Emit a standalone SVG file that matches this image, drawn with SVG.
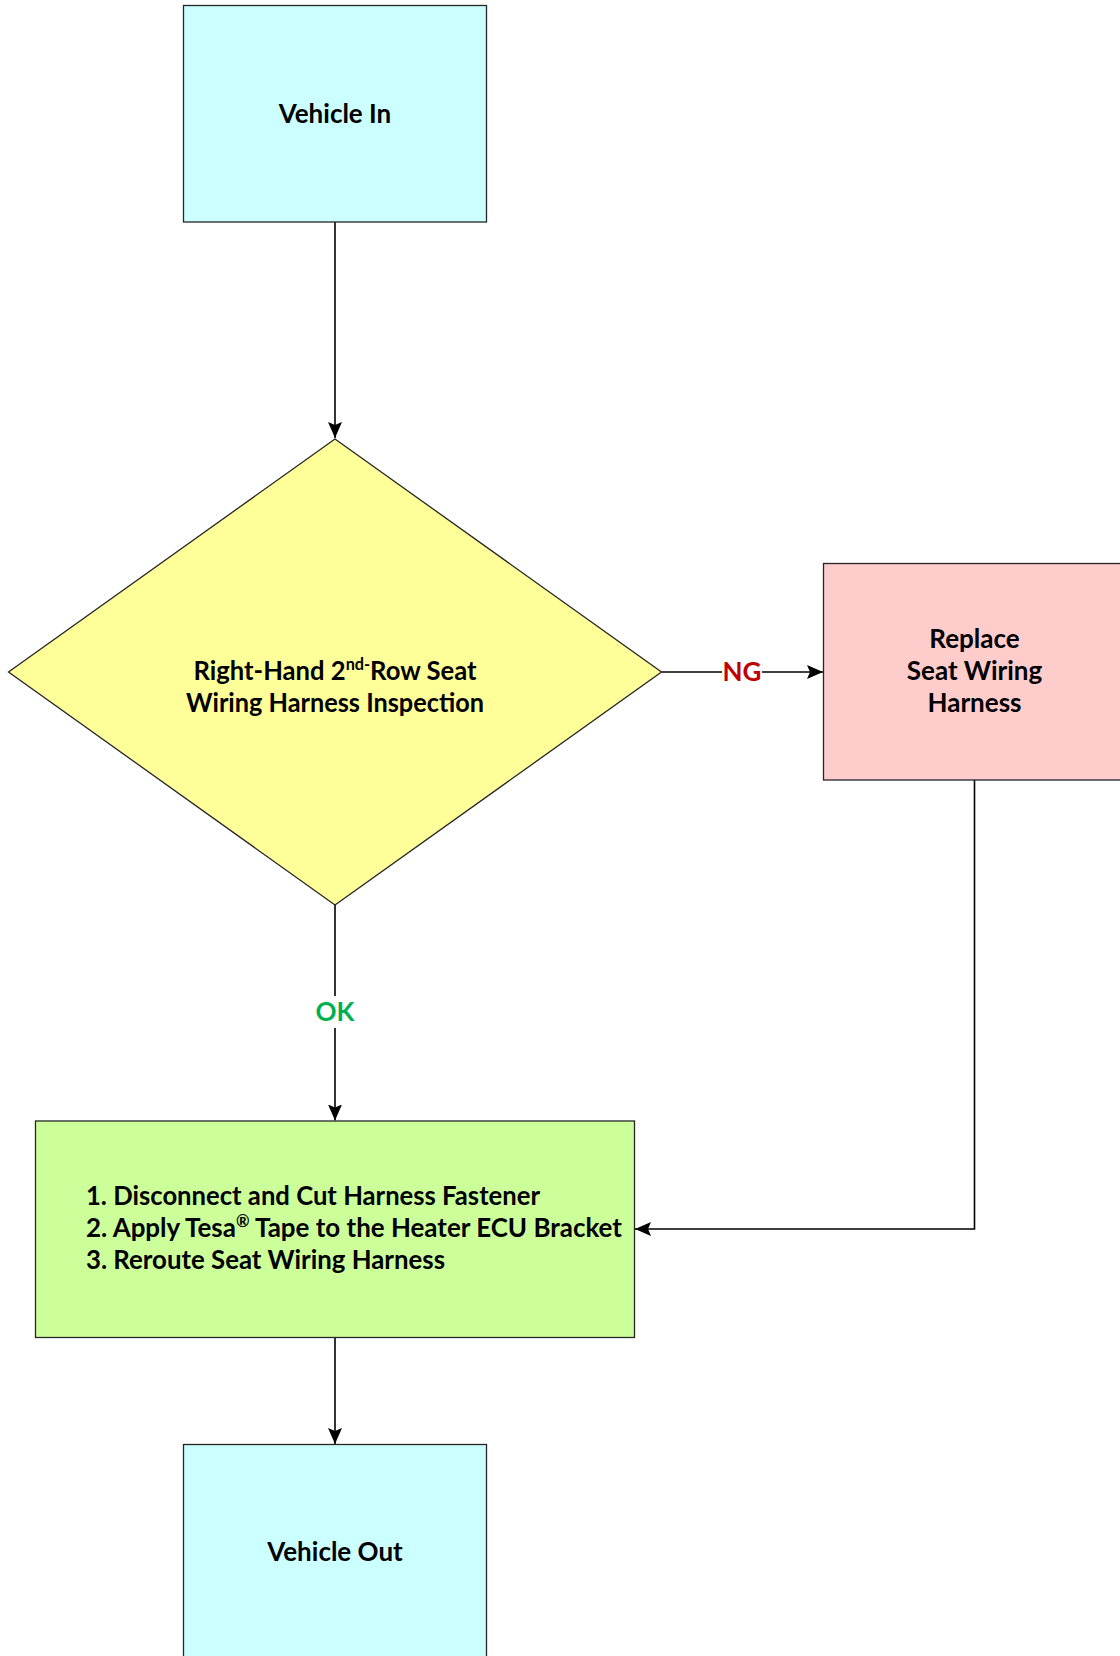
<svg xmlns="http://www.w3.org/2000/svg" width="1120" height="1656" viewBox="0 0 1120 1656">
<style>
.box{stroke:#262626;stroke-width:1.3}
.t{font-family:Lato,"Noto Sans",sans-serif;font-weight:bold;font-size:26px;fill:#000}
.c{text-anchor:middle}
.ln{fill:none;stroke:#000;stroke-width:1.6}
.lbl{font-family:Lato,"Noto Sans",sans-serif;font-weight:bold;font-size:26px;text-anchor:middle}
</style>
<defs>
<marker id="arr" markerUnits="userSpaceOnUse" markerWidth="18" markerHeight="15" refX="16" refY="7" orient="auto">
<path d="M0,0 L16,7 L0,14 L3,7 z" fill="#000"/>
</marker>
</defs>
<rect width="1120" height="1656" fill="#fff"/>
<g id="connectors">
<line class="ln" x1="335" y1="222" x2="335" y2="438" marker-end="url(#arr)"/>
<line class="ln" x1="661.5" y1="672" x2="823" y2="672" marker-end="url(#arr)"/>
<rect x="722" y="656" width="40" height="30" fill="#fff"/>
<text class="lbl" x="742" y="681" fill="#C00000">NG</text>
<line class="ln" x1="335" y1="905" x2="335" y2="1120.5" marker-end="url(#arr)"/>
<rect x="315" y="996" width="40" height="32" fill="#fff"/>
<text class="lbl" x="335" y="1021" fill="#00B050">OK</text>
<polyline class="ln" points="974.5,780 974.5,1229 635,1229" marker-end="url(#arr)"/>
<line class="ln" x1="335" y1="1337.5" x2="335" y2="1444" marker-end="url(#arr)"/>
</g>
<g id="vehicle-in">
<rect class="box" x="183.5" y="5.5" width="303" height="216.5" fill="#CCFFFF"/>
<text class="t c" x="335" y="123">Vehicle In</text>
</g>
<g id="inspection">
<polygon class="box" points="335,439 661.5,672 335,905 8.5,672" fill="#FFFF99"/>
<text class="t c" x="335" y="680" textLength="283" lengthAdjust="spacingAndGlyphs">Right-Hand 2<tspan font-size="16.5" dy="-10">nd-</tspan><tspan dy="10">Row Seat</tspan></text>
<text class="t c" x="335" y="712" textLength="298" lengthAdjust="spacingAndGlyphs">Wiring Harness Inspection</text>
</g>
<g id="replace">
<rect class="box" x="823.5" y="563.5" width="303" height="216.5" fill="#FFCCCC"/>
<text class="t c" x="974.5" y="648">Replace</text>
<text class="t c" x="974.5" y="680">Seat Wiring</text>
<text class="t c" x="974.5" y="712">Harness</text>
</g>
<g id="rework">
<rect class="box" x="35.5" y="1121" width="599" height="216.5" fill="#CCFF99"/>
<text class="t" x="86" y="1205" textLength="454" lengthAdjust="spacingAndGlyphs">1. Disconnect and Cut Harness Fastener</text>
<text class="t" x="86" y="1237" textLength="536" lengthAdjust="spacingAndGlyphs">2. Apply Tesa<tspan font-size="16.5" dy="-10">®</tspan><tspan dy="10"> Tape to the Heater ECU Bracket</tspan></text>
<text class="t" x="86" y="1269" textLength="359" lengthAdjust="spacingAndGlyphs">3. Reroute Seat Wiring Harness</text>
</g>
<g id="vehicle-out">
<rect class="box" x="183.5" y="1444.5" width="303" height="216.5" fill="#CCFFFF"/>
<text class="t c" x="335" y="1561">Vehicle Out</text>
</g>
</svg>
